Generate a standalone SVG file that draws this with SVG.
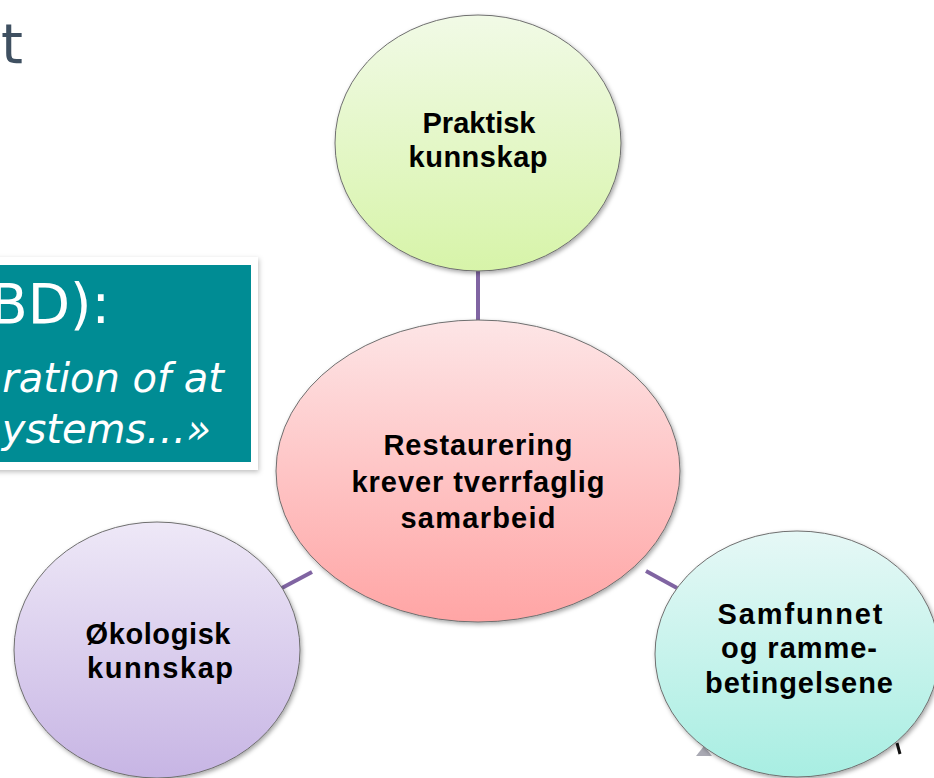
<svg xmlns="http://www.w3.org/2000/svg" width="934" height="778" viewBox="0 0 934 778">
  <defs>
    <linearGradient id="gGreen" x1="0" y1="0" x2="0" y2="1">
      <stop offset="0" stop-color="#F1FAE6"/>
      <stop offset="1" stop-color="#D7F4A9"/>
    </linearGradient>
    <linearGradient id="gRed" x1="0" y1="0" x2="0" y2="1">
      <stop offset="0" stop-color="#FDE5E6"/>
      <stop offset="1" stop-color="#FFA5A5"/>
    </linearGradient>
    <linearGradient id="gPurple" x1="0" y1="0" x2="0" y2="1">
      <stop offset="0" stop-color="#EEE8F7"/>
      <stop offset="1" stop-color="#C7B5E4"/>
    </linearGradient>
    <linearGradient id="gTeal" x1="0" y1="0" x2="0" y2="1">
      <stop offset="0" stop-color="#E6F8F6"/>
      <stop offset="1" stop-color="#A8EEE2"/>
    </linearGradient>
    <filter id="shadow" x="-10%" y="-10%" width="130%" height="130%">
      <feDropShadow dx="1.5" dy="2" stdDeviation="2" flood-color="#000" flood-opacity="0.35"/>
    </filter>
    <filter id="boxShadow" x="-10%" y="-10%" width="130%" height="130%">
      <feDropShadow dx="1" dy="2" stdDeviation="2.5" flood-color="#000" flood-opacity="0.25"/>
    </filter>
  </defs>
  <style>
    .node ellipse { stroke: #6f6f6f; stroke-width: 1; filter: url(#shadow); }
    .label { font-family: "Liberation Sans", Arial, sans-serif; font-weight: bold; font-size: 29px; fill: #000; text-anchor: middle; }
    .conn { stroke: #8064A2; stroke-width: 4; fill: none; }
    .boxtxt { font-family: "DejaVu Sans", Verdana, sans-serif; fill: #ffffff; text-anchor: end; }
  </style>
  <rect x="0" y="0" width="934" height="778" fill="#ffffff"/>

  <!-- title fragment -->
  <text x="1" y="63" font-family="DejaVu Sans, Verdana, sans-serif" font-size="56" fill="#3F5061">t</text>

  <!-- teal quote box -->
  <g id="quote-box">
    <rect x="-10" y="257" width="268" height="213" fill="#ffffff" filter="url(#boxShadow)"/>
    <rect x="-10" y="265" width="261" height="197" fill="#008C94"/>
    <text class="boxtxt" x="110" y="323" font-size="55">BD):</text>
    <text class="boxtxt" x="224" y="392" font-size="40" font-style="italic">ration of at</text>
    <text class="boxtxt" x="211" y="443" font-size="40" font-style="italic">ystems…»</text>
  </g>

  <!-- background fragments -->
  <polygon points="696,756 704,746 712,756" fill="#A9A9B3"/>
  <line x1="897" y1="743" x2="900" y2="754" stroke="#111" stroke-width="3"/>

  <g id="connectors">
    <line class="conn" x1="478" y1="271" x2="478" y2="322"/>
    <line class="conn" x1="312" y1="572" x2="280" y2="589"/>
    <line class="conn" x1="646" y1="571" x2="677" y2="588"/>
  </g>

  <g id="node-praktisk" class="node">
    <ellipse cx="478" cy="143" rx="143" ry="128" fill="url(#gGreen)"/>
    <text class="label" x="479" y="133" textLength="113" lengthAdjust="spacing">Praktisk</text>
    <text class="label" x="478" y="167" textLength="139" lengthAdjust="spacing">kunnskap</text>
  </g>

  <g id="node-restaurering" class="node">
    <ellipse cx="478" cy="471" rx="202" ry="151" fill="url(#gRed)"/>
    <text class="label" x="478" y="455" textLength="189" lengthAdjust="spacing">Restaurering</text>
    <text class="label" x="478" y="492" textLength="253" lengthAdjust="spacing">krever tverrfaglig</text>
    <text class="label" x="478" y="528" textLength="155" lengthAdjust="spacing">samarbeid</text>
  </g>

  <g id="node-okologisk" class="node">
    <ellipse cx="157" cy="650" rx="143" ry="128" fill="url(#gPurple)"/>
    <text class="label" x="158" y="644" textLength="145" lengthAdjust="spacing">Økologisk</text>
    <text class="label" x="160" y="678" textLength="146" lengthAdjust="spacing">kunnskap</text>
  </g>

  <g id="node-samfunnet" class="node">
    <ellipse cx="797" cy="654" rx="142" ry="123" fill="url(#gTeal)"/>
    <text class="label" x="800" y="624" textLength="165" lengthAdjust="spacing">Samfunnet</text>
    <text class="label" x="799" y="658" textLength="156" lengthAdjust="spacing">og ramme-</text>
    <text class="label" x="799" y="693" textLength="188" lengthAdjust="spacing">betingelsene</text>
  </g>
</svg>
